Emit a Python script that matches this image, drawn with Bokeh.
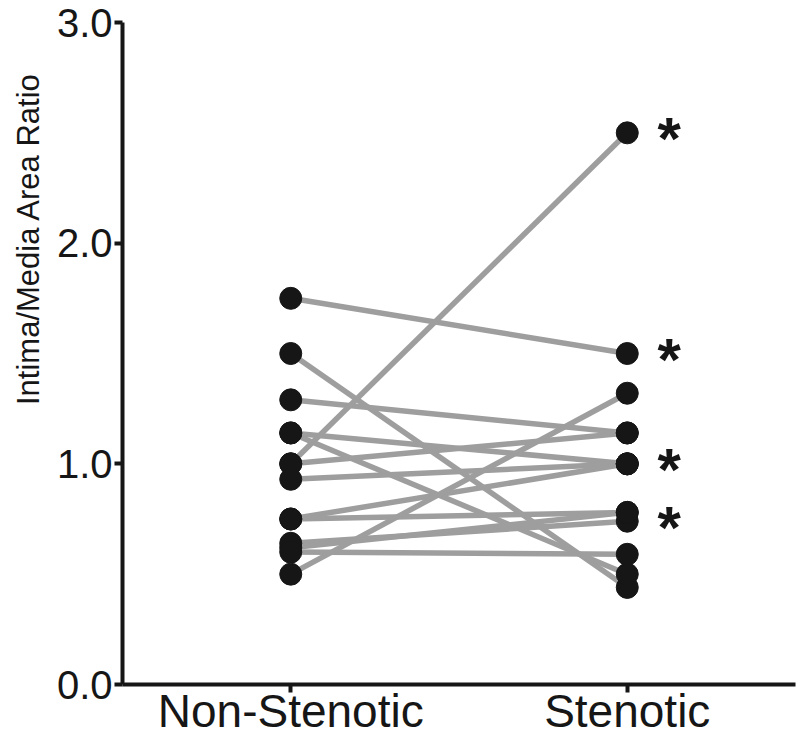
from bokeh.plotting import figure
from bokeh.models import ColumnDataSource, FactorRange, Range1d, FixedTicker, Title
from bokeh.core.properties import value
from bokeh.embed import file_html
from bokeh.resources import INLINE

groups = ["Non-Stenotic", "Stenotic"]
non_stenotic = [1.75, 1.50, 1.29, 1.14, 1.14, 1.00, 1.00, 0.93, 0.75, 0.75, 0.64, 0.62, 0.60, 0.50]
stenotic     = [1.50, 0.44, 1.14, 1.00, 0.50, 2.50, 1.14, 1.00, 1.00, 0.78, 0.74, 0.78, 0.59, 1.32]
star_y = [2.50, 1.50, 1.00, 0.74]
y_ticks = [0, 1, 2, 3]
y_tick_labels = {0: "0.0", 1: "1.0", 2: "2.0", 3: "3.0"}
y_title = "Intima/Media Area Ratio"

FONT = "Liberation Sans"
INK = "#161616"

p = figure(width=800, height=739, x_range=FactorRange(*groups, range_padding=0),
           y_range=Range1d(0, 3), output_backend="svg", toolbar_location=None,
           min_border_left=122, min_border_top=22, min_border_right=5, min_border_bottom=40)
p.outline_line_color = None
p.xgrid.grid_line_color = None
p.ygrid.grid_line_color = None

n = len(non_stenotic)
seg = ColumnDataSource(dict(x0=[groups[0]] * n, y0=non_stenotic, x1=[groups[1]] * n, y1=stenotic))
p.segment(x0="x0", y0="y0", x1="x1", y1="y1", source=seg, line_color="#9e9e9e", line_width=5.5)

pts = ColumnDataSource(dict(x=[groups[0]] * n + [groups[1]] * n, y=non_stenotic + stenotic))
p.scatter(x="x", y="y", source=pts, size=22, fill_color=INK, line_color=INK)

stars = ColumnDataSource(dict(x=[groups[1]] * len(star_y), y=star_y, t=["*"] * len(star_y)))
p.text(x="x", y="y", text="t", source=stars, x_offset=42, y_offset=6,
       text_font=value(FONT), text_font_size="60px", text_font_style="bold",
       text_align="center", text_baseline="alphabetic", text_color=INK)

# y axis
p.yaxis.ticker = FixedTicker(ticks=y_ticks)
p.yaxis.major_label_overrides = y_tick_labels
p.yaxis.major_label_text_font = FONT
p.yaxis.major_label_text_font_size = "40px"
p.yaxis.major_label_standoff = 2
p.yaxis.minor_tick_line_color = None

# y-axis title as a side title, shifted towards the top like the original
t = Title(text=y_title, align="right", offset=50, vertical_align="top",
          text_font=FONT, text_font_size="31px", text_font_style="normal", text_color=INK)
if "standoff" in t.properties():
    t.standoff = 12
p.add_layout(t, "left")

# x axis
p.xaxis.major_label_text_font = FONT
p.xaxis.major_label_text_font_size = "46px"
p.xaxis.major_label_standoff = -8

for ax in (p.xaxis, p.yaxis):
    ax.axis_line_width = 4
    ax.axis_line_color = INK
    ax.major_tick_line_width = 4
    ax.major_tick_line_color = INK
    ax.major_tick_out = 8
    ax.major_tick_in = 0
    ax.major_label_text_color = INK

open("out.html", "w").write(file_html(p, INLINE))
